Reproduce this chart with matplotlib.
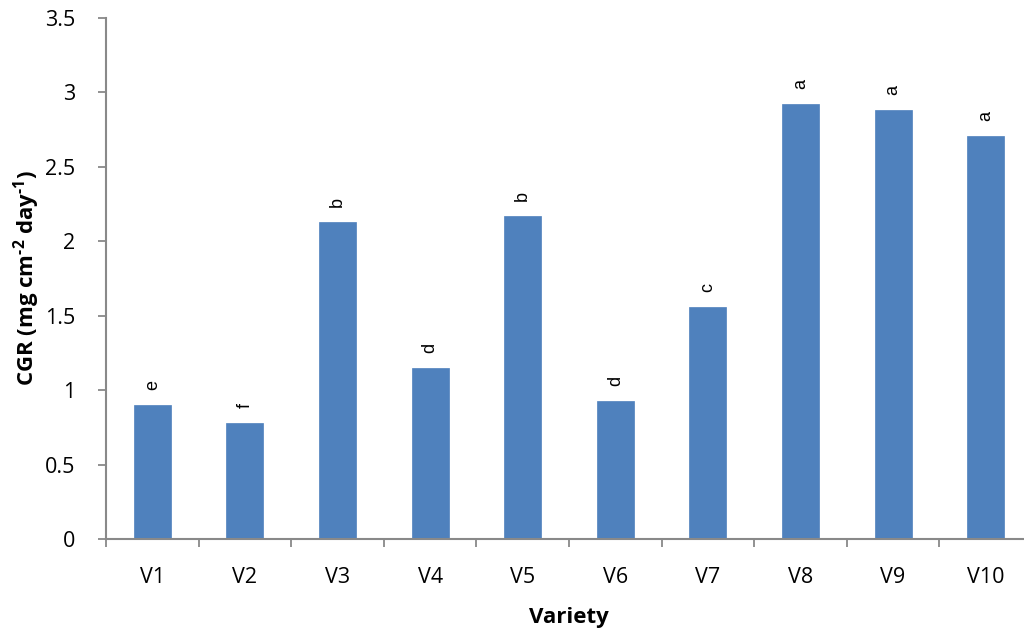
import matplotlib
matplotlib.use("Agg")
import matplotlib.pyplot as plt

varieties = ["V1", "V2", "V3", "V4", "V5", "V6", "V7", "V8", "V9", "V10"]
cgr = [0.90, 0.78, 2.13, 1.15, 2.17, 0.93, 1.56, 2.92, 2.88, 2.71]
groups = ["e", "f", "b", "d", "b", "d", "c", "a", "a", "a"]
yticks = [0, 0.5, 1, 1.5, 2, 2.5, 3, 3.5]
ytick_labels = ["0", "0.5", "1", "1.5", "2", "2.5", "3", "3.5"]

plt.rcParams["font.family"] = ["Open Sans", "DejaVu Sans"]
plt.rcParams["mathtext.fontset"] = "custom"
plt.rcParams["mathtext.rm"] = "Open Sans:bold"
plt.rcParams["mathtext.default"] = "rm"

W, H = 1024, 628
fig = plt.figure(figsize=(W / 100, H / 100), dpi=100)
ax = fig.add_axes([106 / W, (H - 539) / H, 926 / W, 521 / H])

x = range(len(varieties))
ax.bar(x, cgr, width=0.4, color="#4F81BD", edgecolor="#4F81BD", linewidth=0.5, zorder=2)

for xi, v, g in zip(x, cgr, groups):
    ax.annotate(g, (xi, v), xytext=(0, 15), textcoords="offset pixels",
                rotation=90, ha="center", va="bottom", fontsize=13,
                family="Liberation Sans", color="#000000")

ax.set_xlim(-0.5, len(varieties) - 0.5)
ax.set_ylim(0, 3.5)
ax.set_yticks(yticks)
ax.set_yticklabels(ytick_labels)
ax.set_xticks(x)
ax.set_xticklabels(varieties)
ax.set_xticks([i - 0.5 for i in range(len(varieties) + 1)], minor=True)

spine_color = "#898989"
for side in ("top", "right"):
    ax.spines[side].set_visible(False)
for side in ("left", "bottom"):
    ax.spines[side].set_color(spine_color)
    ax.spines[side].set_linewidth(1.5)

ax.tick_params(axis="y", which="major", direction="out", length=6, width=1.3,
               color=spine_color, labelsize=15.5, pad=16)
ax.tick_params(axis="x", which="major", length=0, labelsize=15.5, pad=20)
ax.tick_params(axis="x", which="minor", direction="out", length=6, width=1.3,
               color=spine_color)

ax.set_xlabel("Variety", fontsize=16, fontweight="bold", labelpad=14)
ax.set_ylabel(r"CGR (mg cm$^{\text{-2}}$ day$^{\text{-1}}$)", fontsize=16,
              fontweight="bold", labelpad=2)

fig.savefig("out.png", dpi=100)
